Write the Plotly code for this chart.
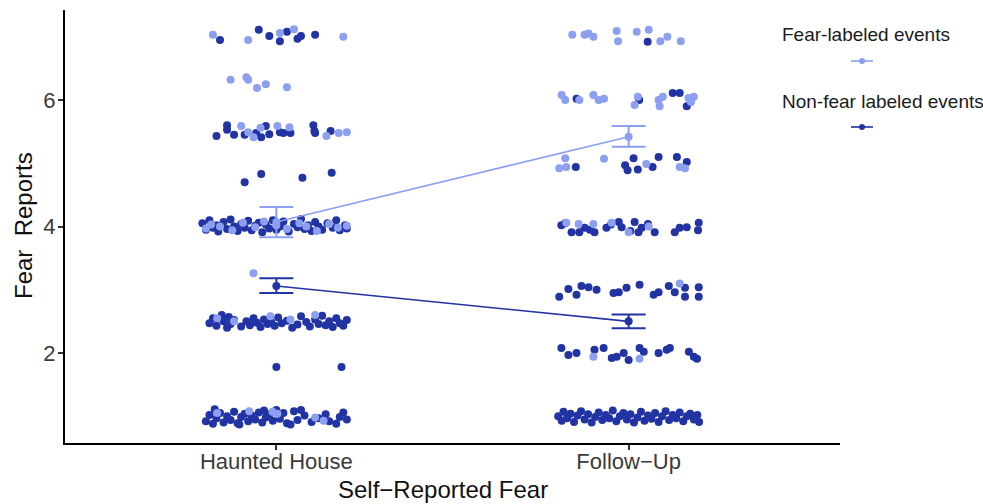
import plotly.graph_objects as go

# Conditions on the x axis
conditions = ["Haunted House", "Follow\u2212Up"]

# Individual fear reports: (jitter offset from condition, report value)
hh_nonfear = [
    (-0.16, 6.95), (-0.05, 7.11), (-0.02, 7.01), (0.01, 6.93), (0.03, 7.08), (0.06, 6.97), (0.07, 7.01), (0.11, 7.03),
    (-0.17, 5.43), (-0.14, 5.60), (-0.14, 5.53), (-0.12, 5.45), (-0.09, 5.45), (-0.057, 5.48), (-0.043, 5.41),
    (-0.03, 5.59), (-0.02, 5.46), (0.01, 5.49), (0.02, 5.48), (0.04, 5.48), (0.105, 5.60), (0.108, 5.51),
    (0.11, 5.48), (0.154, 5.51),
    (-0.09, 4.70), (-0.043, 4.83), (0.074, 4.77), (0.157, 4.85),
    (-0.21, 4.05), (-0.20, 3.95), (-0.19, 4.10), (-0.18, 3.98), (-0.17, 4.02), (-0.165, 3.92), (-0.15, 4.07),
    (-0.14, 3.96), (-0.13, 4.11), (-0.12, 4.00), (-0.11, 3.93), (-0.10, 4.04), (-0.09, 3.98), (-0.08, 4.09),
    (-0.07, 3.94), (-0.06, 4.01), (-0.05, 4.06), (-0.04, 3.91), (-0.03, 4.03), (-0.02, 3.97), (-0.01, 4.10),
    (0.00, 3.95), (0.01, 4.00), (0.02, 4.08), (0.035, 3.92), (0.05, 4.04), (0.06, 3.99), (0.07, 4.12),
    (0.08, 3.96), (0.09, 4.02), (0.10, 3.93), (0.11, 4.07), (0.12, 4.00), (0.13, 3.95), (0.145, 4.05),
    (0.16, 3.98), (0.17, 4.10), (0.18, 3.94), (0.195, 4.02), (0.20, 3.97),
    (-0.19, 2.47), (-0.18, 2.55), (-0.17, 2.43), (-0.155, 2.60), (-0.15, 2.50), (-0.14, 2.40), (-0.135, 2.57),
    (-0.13, 2.46), (-0.12, 2.52), (-0.10, 2.42), (-0.085, 2.50), (-0.075, 2.44), (-0.065, 2.55), (-0.055, 2.48),
    (-0.045, 2.41), (-0.035, 2.53), (-0.025, 2.46), (-0.015, 2.49), (-0.005, 2.43), (0.005, 2.56), (0.015, 2.47),
    (0.03, 2.51), (0.045, 2.40), (0.06, 2.45), (0.07, 2.58), (0.085, 2.49), (0.095, 2.42), (0.11, 2.53),
    (0.12, 2.46), (0.13, 2.59), (0.14, 2.44), (0.15, 2.50), (0.16, 2.41), (0.17, 2.55), (0.18, 2.47),
    (0.19, 2.43), (0.20, 2.52),
    (0.00, 1.78), (0.185, 1.78),
    (-0.20, 0.92), (-0.19, 1.02), (-0.18, 0.88), (-0.17, 0.97), (-0.16, 1.05), (-0.15, 0.90), (-0.14, 1.00),
    (-0.13, 0.94), (-0.12, 1.07), (-0.11, 0.89), (-0.10, 0.99), (-0.09, 1.04), (-0.08, 0.92), (-0.07, 1.01),
    (-0.06, 0.95), (-0.05, 1.06), (-0.04, 0.90), (-0.03, 0.98), (-0.02, 1.03), (-0.01, 0.93), (0.00, 1.10),
    (0.01, 0.96), (0.02, 1.05), (0.03, 0.89), (0.05, 1.08), (0.06, 0.94), (0.08, 1.01), (0.10, 0.91),
    (0.12, 0.97), (0.14, 1.03), (0.15, 0.92), (0.17, 0.88), (0.18, 0.99), (0.19, 1.06), (0.20, 0.95),
    (-0.175, 1.11), (-0.105, 0.87), (-0.035, 1.09), (0.04, 0.87), (0.07, 1.10),
]

hh_fear = [
    (-0.18, 7.03), (-0.08, 6.95), (0.01, 7.06), (0.05, 7.12), (0.19, 7.00),
    (-0.13, 6.32), (-0.085, 6.36), (-0.08, 6.32), (-0.055, 6.19), (-0.03, 6.25), (0.03, 6.20),
    (-0.10, 5.59), (-0.08, 5.49), (-0.065, 5.41), (-0.045, 5.56), (0.003, 5.59), (0.037, 5.57),
    (0.142, 5.43), (0.177, 5.48), (0.20, 5.49),
    (-0.20, 3.97), (-0.185, 4.03), (-0.16, 4.00), (-0.125, 3.94), (-0.095, 4.06), (-0.06, 3.99),
    (-0.035, 4.08), (0.00, 4.02), (0.03, 3.96), (0.065, 4.05), (0.085, 4.00), (0.115, 3.93),
    (0.15, 4.04), (0.175, 3.98), (0.20, 4.01),
    (-0.065, 3.26),
    (-0.168, 2.55), (-0.12, 2.50), (-0.017, 2.58), (0.04, 2.53), (0.11, 2.60),
    (-0.168, 1.05), (-0.077, 1.08), (-0.011, 1.07), (0.003, 1.04), (0.11, 0.98), (0.134, 0.93),
]

fu_nonfear = [
    (0.054, 6.92),
    (-0.148, 6.02), (0.03, 6.00), (0.125, 6.11), (0.145, 6.11), (0.165, 5.90),
    (-0.15, 4.94), (-0.01, 4.97), (-0.003, 4.89), (0.014, 5.08), (0.026, 4.90), (0.068, 4.94),
    (0.085, 5.10), (0.137, 5.10), (0.165, 5.02),
    (-0.191, 4.02), (-0.18, 4.05), (-0.162, 3.91), (-0.14, 3.91), (-0.125, 3.98), (-0.11, 3.95),
    (-0.097, 3.91), (-0.063, 3.98), (-0.05, 4.03), (-0.028, 4.07), (-0.02, 3.99), (0.005, 3.93),
    (0.017, 4.07), (0.028, 3.91), (0.037, 3.98), (0.055, 4.04), (0.074, 3.91), (0.131, 3.91),
    (0.145, 3.98), (0.165, 3.99), (0.199, 4.06), (0.197, 3.94),
    (-0.197, 2.89), (-0.171, 3.01), (-0.148, 2.92), (-0.134, 3.06), (-0.114, 3.04), (-0.091, 3.00),
    (-0.043, 2.95), (-0.028, 2.96), (-0.006, 3.03), (0.031, 3.08), (0.071, 2.92), (0.085, 2.96),
    (0.114, 3.06), (0.131, 2.96), (0.16, 3.03), (0.16, 2.89), (0.199, 3.04), (0.199, 2.89),
    (-0.191, 2.08), (-0.171, 1.97), (-0.148, 2.00), (-0.097, 2.05), (-0.071, 2.08), (-0.048, 1.92),
    (-0.034, 1.94), (-0.014, 2.00), (0.00, 1.89), (0.031, 2.08), (0.043, 2.02), (0.085, 2.00),
    (0.108, 2.05), (0.117, 2.08), (0.171, 2.02), (0.185, 1.94), (0.194, 1.91),
    (-0.20, 1.00), (-0.19, 0.93), (-0.185, 1.07), (-0.175, 0.97), (-0.165, 1.04), (-0.155, 0.91),
    (-0.145, 1.01), (-0.135, 1.08), (-0.125, 0.95), (-0.115, 1.03), (-0.105, 0.90), (-0.095, 0.99),
    (-0.085, 1.06), (-0.075, 0.94), (-0.065, 1.02), (-0.055, 0.97), (-0.045, 1.09), (-0.035, 0.92),
    (-0.025, 1.00), (-0.015, 1.05), (-0.005, 0.95), (0.005, 1.03), (0.015, 0.90), (0.025, 0.98),
    (0.035, 1.07), (0.045, 0.93), (0.055, 1.01), (0.065, 0.96), (0.075, 1.05), (0.085, 0.91),
    (0.095, 1.00), (0.105, 1.08), (0.115, 0.94), (0.125, 1.02), (0.135, 0.97), (0.145, 1.06),
    (0.155, 0.92), (0.165, 1.00), (0.175, 1.04), (0.185, 0.95), (0.195, 1.02), (0.20, 0.91),
]

fu_fear = [
    (-0.16, 7.03), (-0.125, 7.03), (-0.114, 7.05), (-0.10, 7.00), (-0.034, 7.09), (-0.03, 6.93),
    (0.023, 7.08), (0.057, 7.11), (0.09, 6.93), (0.11, 7.00), (0.148, 6.93),
    (-0.19, 6.08), (-0.18, 6.00), (-0.14, 6.00), (-0.10, 6.08), (-0.085, 6.00), (-0.07, 6.02),
    (0.017, 5.92), (0.026, 6.05), (0.085, 6.00), (0.088, 5.90), (0.097, 6.05), (0.17, 6.03),
    (0.185, 6.05), (0.177, 5.97),
    (-0.18, 5.08), (-0.197, 4.92), (-0.177, 4.94), (-0.07, 5.07), (0.05, 4.99), (0.145, 4.94), (0.16, 4.92),
    (-0.177, 4.06), (-0.142, 4.04), (-0.10, 4.04), (-0.048, 4.06), (0.00, 3.91), (0.057, 4.00),
    (0.145, 3.10),
    (-0.10, 1.94), (0.031, 1.91),
]

# Condition means with lower / upper error limits
fear_mean = [4.07, 5.42]
fear_low = [3.83, 5.26]
fear_high = [4.31, 5.59]
nonfear_mean = [3.06, 2.50]
nonfear_low = [2.95, 2.39]
nonfear_high = [3.18, 2.61]

LIGHT = "#8c9ff0"
DARK = "#2233a3"
FONT = "Liberation Sans, Arial, sans-serif"

fig = go.Figure()


def add_points(points, position, color):
    fig.add_trace(go.Scatter(
        x=[position + dx for dx, _ in points],
        y=[val for _, val in points],
        mode="markers",
        marker=dict(size=8, color=color, opacity=1, line=dict(width=0)),
        showlegend=False, hoverinfo="skip",
    ))


add_points(hh_nonfear, 1, DARK)
add_points(fu_nonfear, 2, DARK)
add_points(hh_fear, 1, LIGHT)
add_points(fu_fear, 2, LIGHT)


def add_means(mean, low, high, color):
    fig.add_trace(go.Scatter(
        x=[1, 2], y=mean,
        mode="lines+markers",
        line=dict(color=color, width=1.6),
        marker=dict(size=8, color=color),
        error_y=dict(type="data", symmetric=False,
                     array=[h - m for h, m in zip(high, mean)],
                     arrayminus=[m - l for m, l in zip(mean, low)],
                     color=color, thickness=2, width=17),
        showlegend=False, hoverinfo="skip",
    ))


add_means(fear_mean, fear_low, fear_high, LIGHT)
add_means(nonfear_mean, nonfear_low, nonfear_high, DARK)

# Legend: two separate keys, each with its label above a line+point glyph
PLOT_L, PLOT_R, PLOT_T, PLOT_B = 65, 840, 10, 443


def px_to_paper(px, py):
    return (px - PLOT_L) / (PLOT_R - PLOT_L), (PLOT_B - py) / (PLOT_B - PLOT_T)


annotations = []
shapes = []
for label, color, ty, ky in [("Fear-labeled events", LIGHT, 34, 61),
                             ("Non-fear labeled events", DARK, 101, 127)]:
    ax, ay = px_to_paper(780, ty)
    annotations.append(dict(x=ax, y=ay, xref="paper", yref="paper", text=label,
                            showarrow=False, xanchor="left", yanchor="middle",
                            font=dict(family=FONT, size=19, color="#1a1a1a")))
    x0, y0 = px_to_paper(851, ky)
    x1, _ = px_to_paper(873, ky)
    shapes.append(dict(type="line", xref="paper", yref="paper", x0=x0, x1=x1, y0=y0, y1=y0,
                       line=dict(color=color, width=1.6)))
    cx0, cy0 = px_to_paper(859, ky - 3)
    cx1, cy1 = px_to_paper(865, ky + 3)
    shapes.append(dict(type="circle", xref="paper", yref="paper", x0=cx0, x1=cx1, y0=cy1, y1=cy0,
                       fillcolor=color, line=dict(color=color, width=0)))

# Axis titles
tx, ty = px_to_paper(443, 489)
annotations.append(dict(x=tx, y=ty, xref="paper", yref="paper", text="Self\u2212Reported Fear",
                        showarrow=False, xanchor="center", yanchor="middle",
                        font=dict(family=FONT, size=24, color="#111111")))
yx, yy = px_to_paper(24, 226)
annotations.append(dict(x=yx, y=yy, xref="paper", yref="paper", text="Fear\u00a0\u00a0Reports",
                        showarrow=False, xanchor="center", yanchor="middle", textangle=-90,
                        font=dict(family=FONT, size=24, color="#111111")))

fig.update_layout(
    width=983, height=504,
    margin=dict(l=PLOT_L, r=983 - PLOT_R, t=PLOT_T, b=504 - PLOT_B),
    paper_bgcolor="white", plot_bgcolor="white",
    annotations=annotations, shapes=shapes,
    font=dict(family=FONT),
)
fig.update_xaxes(
    range=[0.4, 2.6], tickvals=[1, 2], ticktext=conditions,
    showline=True, linecolor="black", linewidth=2,
    ticks="outside", ticklen=5, tickwidth=1.5, tickcolor="#333333",
    showgrid=False, zeroline=False, ticklabelstandoff=-7,
    tickfont=dict(family=FONT, size=22, color="#3a3a3a"),
)
fig.update_yaxes(
    range=[0.577, 7.423], tickvals=[2, 4, 6], ticktext=["2", "4", "6"],
    showline=True, linecolor="black", linewidth=2,
    ticks="outside", ticklen=5, tickwidth=1.5, tickcolor="#333333",
    showgrid=False, zeroline=False, ticklabelstandoff=-2,
    tickfont=dict(family=FONT, size=22, color="#3a3a3a"),
)

fig.write_html("out.html")
